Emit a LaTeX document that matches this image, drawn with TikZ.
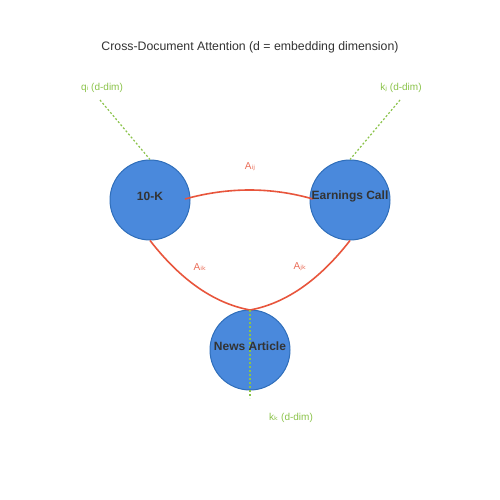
\documentclass[tikz,border=0pt]{standalone}
\usepackage{fontspec}
\setmainfont{Liberation Sans}
\newfontfamily\subf{DejaVu Sans}
\definecolor{nodefill}{RGB}{74,137,220}
\definecolor{nodeedge}{RGB}{47,110,186}
\definecolor{edgered}{RGB}{232,85,60}
\definecolor{dimgreen}{RGB}{139,195,74}
\definecolor{txt}{RGB}{51,51,51}
\begin{document}
\begin{tikzpicture}[x=1pt,y=-1pt,
  doc/.style={circle,minimum size=80pt,inner sep=0pt,fill=nodefill,draw=nodeedge,line width=1pt},
  doclabel/.style={font=\bfseries\fontsize{12}{14}\selectfont,text=txt,inner sep=0pt},
  attn/.style={draw=edgered,line width=1.6pt},
  attnlabel/.style={font=\fontsize{10}{12}\selectfont,text=edgered!85,inner sep=0pt},
  dimline/.style={draw=dimgreen,line width=1.2pt,dash pattern=on 2pt off 2pt},
  dimlabel/.style={font=\fontsize{10}{12}\selectfont,text=dimgreen,inner sep=0pt}]
\useasboundingbox (0,0) rectangle (500,500);
\fill[white] (0,0) rectangle (500,500);
\node[font=\fontsize{12.3}{14}\selectfont,text=txt,inner sep=0pt] (title) at (250,47) {Cross-Document Attention (d = embedding dimension)};
\node[doc] (tenk) at (150,200) {};
\node[doc] (earn) at (350,200) {};
\node[doc] (news) at (250,350) {};
% anchor coordinates
\coordinate (tenkR) at (185,199);
\coordinate (earnL) at (313,199);
\coordinate (newsT) at (250,310);
\coordinate (qend) at (100,100);
\coordinate (kend) at (400,100);
\coordinate (kkend) at (250,398);
% attention edges (quadratic curves as cubics)
\draw[attn] (tenkR) .. controls (228.3,187) and (271,187) .. (earnL);
\draw[attn] (tenk.south) .. controls (180.7,280) and (214,303.3) .. (newsT);
\draw[attn] (earn.south) .. controls (319.3,280) and (286,303.3) .. (newsT);
% dimension lines
\draw[dimline] (qend) -- (tenk.north);
\draw[dimline] (kend) -- (earn.north);
\draw[dimline] (newsT) -- (kkend);
% labels
\node[doclabel] (tenkt) at (150,196) {10-K};
\node[doclabel] (earnt) at (350,196) {Earnings Call};
\node[doclabel] (newst) at (250,346) {News Article};
\node[attnlabel] (a1) at (250,167) {A{\subf ᵢⱼ}};
\node[attnlabel] (a2) at (200,267) {A{\subf ᵢₖ}};
\node[attnlabel] (a3) at (300,267) {A{\subf ⱼₖ}};
\node[dimlabel] (ql) at (102,87.5) {q{\subf ᵢ} (d-dim)};
\node[dimlabel] (kl) at (401,87.5) {k{\subf ⱼ} (d-dim)};
\node[dimlabel] (kkl) at (291,417.5) {k{\subf ₖ} (d-dim)};
\end{tikzpicture}
\end{document}
